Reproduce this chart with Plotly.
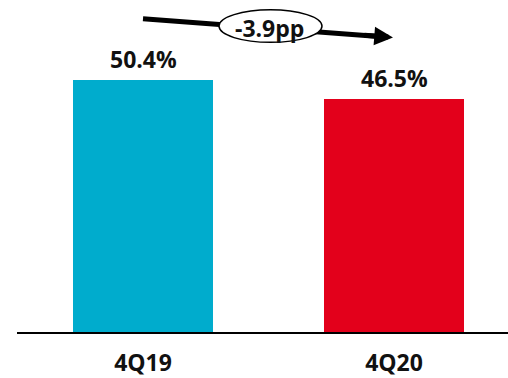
import plotly.graph_objects as go

# Data
categories = ["4Q19", "4Q20"]
values = [50.4, 46.5]
value_labels = ["50.4%", "46.5%"]
bar_colors = ["#00ACCD", "#E3001B"]
change_label = "-3.9pp"

W, H = 508, 378
ML, MR, MT, MB = 17, 0, 0, 41
PW, PH = W - ML - MR, H - MT - MB


def px(x):
    return (x - ML) / PW


def py(y):
    return (H - MB - y) / PH


FONT = "Open Sans"
TXT = "#111111"

fig = go.Figure(
    go.Bar(
        x=categories,
        y=values,
        width=0.558,
        marker=dict(color=bar_colors, line=dict(width=0)),
        hoverinfo="skip",
    )
)

# Value labels above each bar
annotations = [
    dict(x=c, y=v, xref="x", yref="y", text=t, showarrow=False,
         xanchor="center", yanchor="bottom", yshift=3,
         font=dict(family=FONT, size=23, color=TXT, weight="bold"))
    for c, v, t in zip(categories, values, value_labels)
]

# Trend arrow: shaft, then the oval label over it, then the arrow head
x_tail, y_tail = 143, 19
x_tip, y_tip = 393, 38
shapes = [
    dict(type="line", xref="paper", yref="paper",
         x0=px(x_tail), y0=py(y_tail), x1=px(382), y1=py(37.2),
         line=dict(color="black", width=5)),
    dict(type="circle", xref="paper", yref="paper",
         x0=px(219), x1=px(322), y0=py(43), y1=py(10),
         fillcolor="white", line=dict(color="black", width=1.5)),
]

annotations += [
    dict(xref="paper", yref="paper", x=px(x_tip), y=py(y_tip),
         ax=-30, ay=-2.3, axref="pixel", ayref="pixel",
         showarrow=True, arrowhead=2, arrowsize=0.75, arrowwidth=5,
         arrowcolor="black", text=""),
    dict(xref="paper", yref="paper", x=px(269), y=py(28),
         text=change_label, showarrow=False,
         font=dict(family=FONT, size=23, color=TXT, weight="bold"),
         xanchor="center", yanchor="middle"),
]

fig.update_layout(
    width=W, height=H,
    margin=dict(l=ML, r=MR, t=MT, b=MB),
    paper_bgcolor="white", plot_bgcolor="white",
    showlegend=False,
    bargap=0,
    shapes=shapes,
    annotations=annotations,
    xaxis=dict(
        type="category",
        range=[-0.502, 1.454],
        showline=True, linecolor="black", linewidth=1.5,
        ticks="", showgrid=False, zeroline=False,
        ticklabelstandoff=10,
        tickfont=dict(family=FONT, size=23, color=TXT, weight="bold"),
    ),
    yaxis=dict(
        range=[0, 66.35],
        visible=False, showgrid=False, zeroline=False,
    ),
)

fig.write_html("out.html")
